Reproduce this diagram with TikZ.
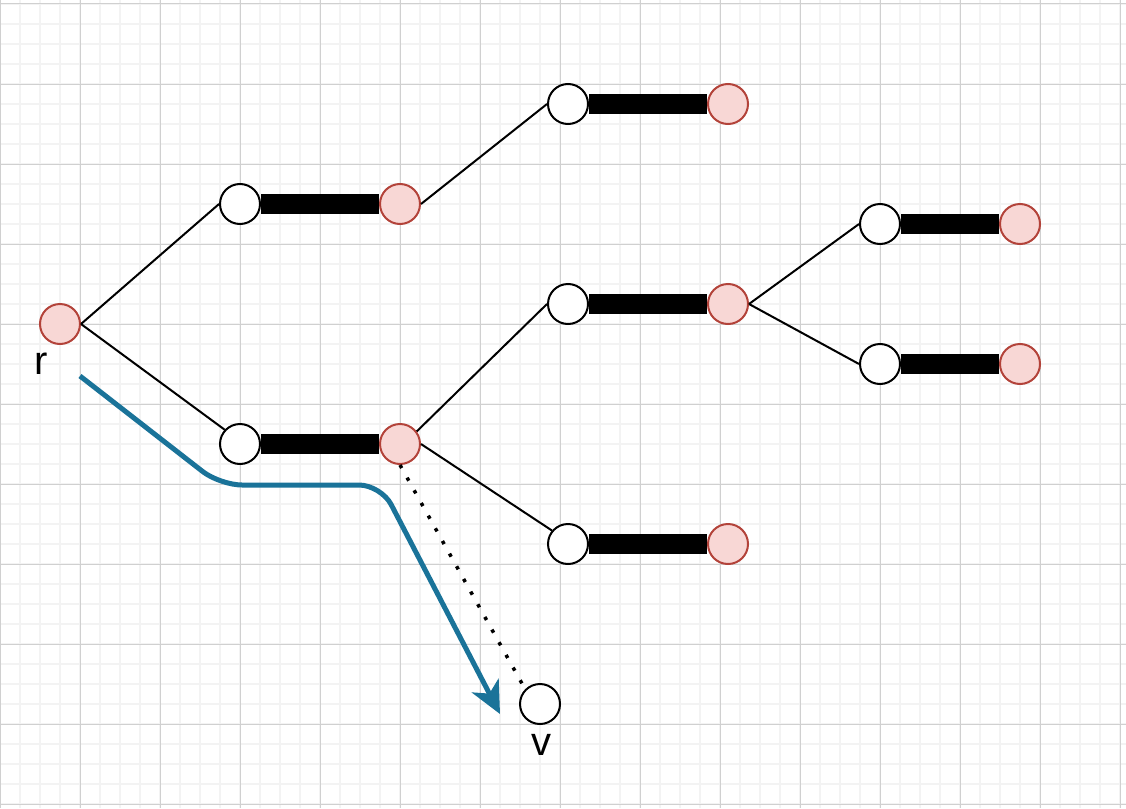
\documentclass[tikz,border=0pt]{standalone}
\usepackage{fontspec}
\setmainfont{Liberation Sans}
\usetikzlibrary{arrows.meta}
\definecolor{pinkfill}{HTML}{F8D7D5}
\definecolor{pinkline}{HTML}{B3433A}
\definecolor{bluepath}{HTML}{1A7399}
\definecolor{gridminor}{HTML}{F3F3F3}
\definecolor{gridmajor}{HTML}{D0D0D0}
\tikzset{
  whitenode/.style={circle, draw=black, fill=white, line width=2pt, minimum size=40pt, inner sep=0pt},
  pinknode/.style={circle, draw=pinkline, fill=pinkfill, line width=2pt, minimum size=40pt, inner sep=0pt},
  thinedge/.style={line width=2pt, black},
  bar/.style={line width=20pt, black},
  lbl/.style={font=\fontsize{40}{42}\selectfont, inner sep=0pt},
}
\begin{document}
\begin{tikzpicture}[x=1pt,y=-1pt]
\useasboundingbox (0,0) rectangle (1126,808);
\fill[white] (0,0) rectangle (1126,808);
% grid
\foreach \x in {20,40,...,1120} \draw[gridminor, line width=1.5pt] (\x,0) -- (\x,808);
\foreach \y in {4,24,...,804} \draw[gridminor, line width=1.5pt] (0,\y) -- (1126,\y);
\foreach \x in {0,80,...,1120} \draw[gridmajor, line width=1pt] (\x,0) -- (\x,808);
\foreach \y in {4,84,...,804} \draw[gridmajor, line width=1pt] (0,\y) -- (1126,\y);
% nodes
\node[pinknode] (r) at (60,324) {};
\node[whitenode] (a1) at (240,204) {};
\node[pinknode] (a2) at (400,204) {};
\node[whitenode] (b1) at (240,444) {};
\node[pinknode] (b2) at (400,444) {};
\node[whitenode] (c1) at (568,104) {};
\node[pinknode] (c2) at (728,104) {};
\node[whitenode] (d1) at (568,304) {};
\node[pinknode] (d2) at (728,304) {};
\node[whitenode] (e1) at (568,544) {};
\node[pinknode] (e2) at (728,544) {};
\node[whitenode] (f1) at (880,224) {};
\node[pinknode] (f2) at (1020,224) {};
\node[whitenode] (g1) at (880,364) {};
\node[pinknode] (g2) at (1020,364) {};
\node[whitenode] (v) at (540,704) {};
\node[lbl] (rl) at (41,364) {r};
\node[lbl] (vl) at (541,745) {v};
% bars
\foreach \n in {a,b,c,d,e,f,g} \draw[bar] (\n1.east) -- (\n2.west);
% thin edges
\draw[thinedge] (r.east) -- (a1.west);
\draw[thinedge] (r.east) -- (b1.137);
\draw[thinedge] (a2.east) -- (c1.west);
\draw[thinedge] (b2.37) -- (d1.west);
\draw[thinedge] (b2.east) -- (e1.140);
\draw[thinedge] (d2.east) -- (f1.west);
\draw[thinedge] (d2.east) -- (g1.west);
% dotted
\draw[black, line width=3.5pt, dash pattern=on 3.5pt off 11pt] (b2.south) -- (v.north west);
% blue path
\coordinate (bs) at (80,376);
\coordinate (bc1) at (220,485);
\coordinate (bc2) at (381,485);
\coordinate (bt) at (500,714);
\draw[bluepath, line width=5pt, rounded corners=22pt, -{Stealth[length=32pt,width=30pt,inset=9pt]}] (bs) -- (bc1) -- (bc2) -- (bt);
\end{tikzpicture}
\end{document}
